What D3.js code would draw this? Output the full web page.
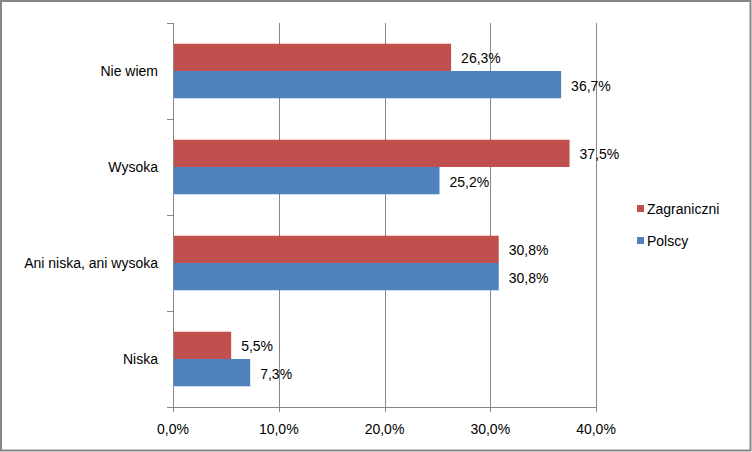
<!DOCTYPE html>
<html><head><meta charset="utf-8">
<script src="https://cdn.jsdelivr.net/npm/d3@7"></script>
<style>body{margin:0;background:#fff}svg{display:block}text{font-family:"Liberation Sans",Arial,sans-serif;fill:#000}</style>
</head><body>
<script>
const categories = ["Nie wiem", "Wysoka", "Ani niska, ani wysoka", "Niska"];
const seriesNames = ["Zagraniczni", "Polscy"];
const zagraniczni = [26.3, 37.5, 30.8, 5.5];
const polscy = [36.7, 25.2, 30.8, 7.3];
const colors = ["#C0504D", "#4F81BD"];
const xTicks = [0, 10, 20, 30, 40];

const W = 752, H = 452;
const svg = d3.select("body").append("svg").attr("width", W).attr("height", H);
svg.append("rect").attr("x", 1).attr("y", 1).attr("width", W - 2.5).attr("height", H - 2.5)
  .attr("fill", "#fff").attr("stroke", "#868686").attr("stroke-width", 2);

const L = 173, R = 596, T = 23, B = 407;
const x = d3.scaleLinear().domain([0, 40]).range([L, R]);
const y = d3.scaleBand().domain(categories).range([T, B]).paddingInner(0).paddingOuter(0);
const inner = d3.scaleBand().domain(seriesNames).range([0, y.bandwidth()]).paddingInner(0).paddingOuter(0.76);
const fmt = v => v.toFixed(1).replace(".", ",") + "%";

// gridlines (with tick marks extending below axis)
svg.append("g").selectAll("line").data(xTicks.slice(1)).join("line")
  .attr("x1", d => Math.round(x(d)) + 0.5).attr("x2", d => Math.round(x(d)) + 0.5)
  .attr("y1", T).attr("y2", B + 5).attr("stroke", "#868686").attr("stroke-width", 1);

// bars
const data = [zagraniczni, polscy];
seriesNames.forEach((s, si) => {
  const g = svg.append("g");
  g.selectAll("rect").data(categories).join("rect")
    .attr("x", x(0)).attr("y", (c) => y(c) + inner(s))
    .attr("width", (c, i) => x(data[si][i]) - x(0))
    .attr("height", inner.bandwidth())
    .attr("fill", colors[si]);
  g.selectAll("text").data(categories).join("text")
    .attr("x", (c, i) => x(data[si][i]) + 10)
    .attr("y", c => y(c) + inner(s) + inner.bandwidth() / 2 + 6)
    .attr("font-size", 14)
    .text((c, i) => fmt(data[si][i]));
});

// x axis
const xa = svg.append("g");
xa.append("line").attr("x1", L - 6).attr("x2", R).attr("y1", B + 0.5).attr("y2", B + 0.5).attr("stroke", "#868686");
xa.selectAll("line.t").data([0]).join("line").attr("class", "t")
  .attr("x1", x(0) + 0.5).attr("x2", x(0) + 0.5).attr("y1", B).attr("y2", B + 5).attr("stroke", "#868686");
xa.selectAll("text").data(xTicks).join("text")
  .attr("x", d => x(d)).attr("y", B + 27).attr("text-anchor", "middle").attr("font-size", 14)
  .text(d => d.toFixed(1).replace(".", ",") + "%");

// y axis
const ya = svg.append("g");
ya.append("line").attr("x1", L + 0.5).attr("x2", L + 0.5).attr("y1", T).attr("y2", B).attr("stroke", "#868686");
const bounds = categories.map(c => y(c)).concat([B]);
ya.selectAll("line.t").data(bounds).join("line").attr("class", "t")
  .attr("x1", L - 6).attr("x2", L).attr("y1", d => Math.round(d) + 0.5).attr("y2", d => Math.round(d) + 0.5)
  .attr("stroke", "#868686");
ya.selectAll("text").data(categories).join("text")
  .attr("x", 158).attr("y", c => y(c) + y.bandwidth() / 2 + 5)
  .attr("text-anchor", "end").attr("font-size", 14).text(c => c);

// legend
const lg = svg.append("g");
seriesNames.forEach((s, i) => {
  const ly = 209 + i * 32;
  lg.append("rect").attr("x", 637).attr("y", ly - 4).attr("width", 7).attr("height", 7).attr("fill", colors[i]);
  lg.append("text").attr("x", 647).attr("y", ly + 5).attr("font-size", 14).text(s);
});
</script>
</body></html>
